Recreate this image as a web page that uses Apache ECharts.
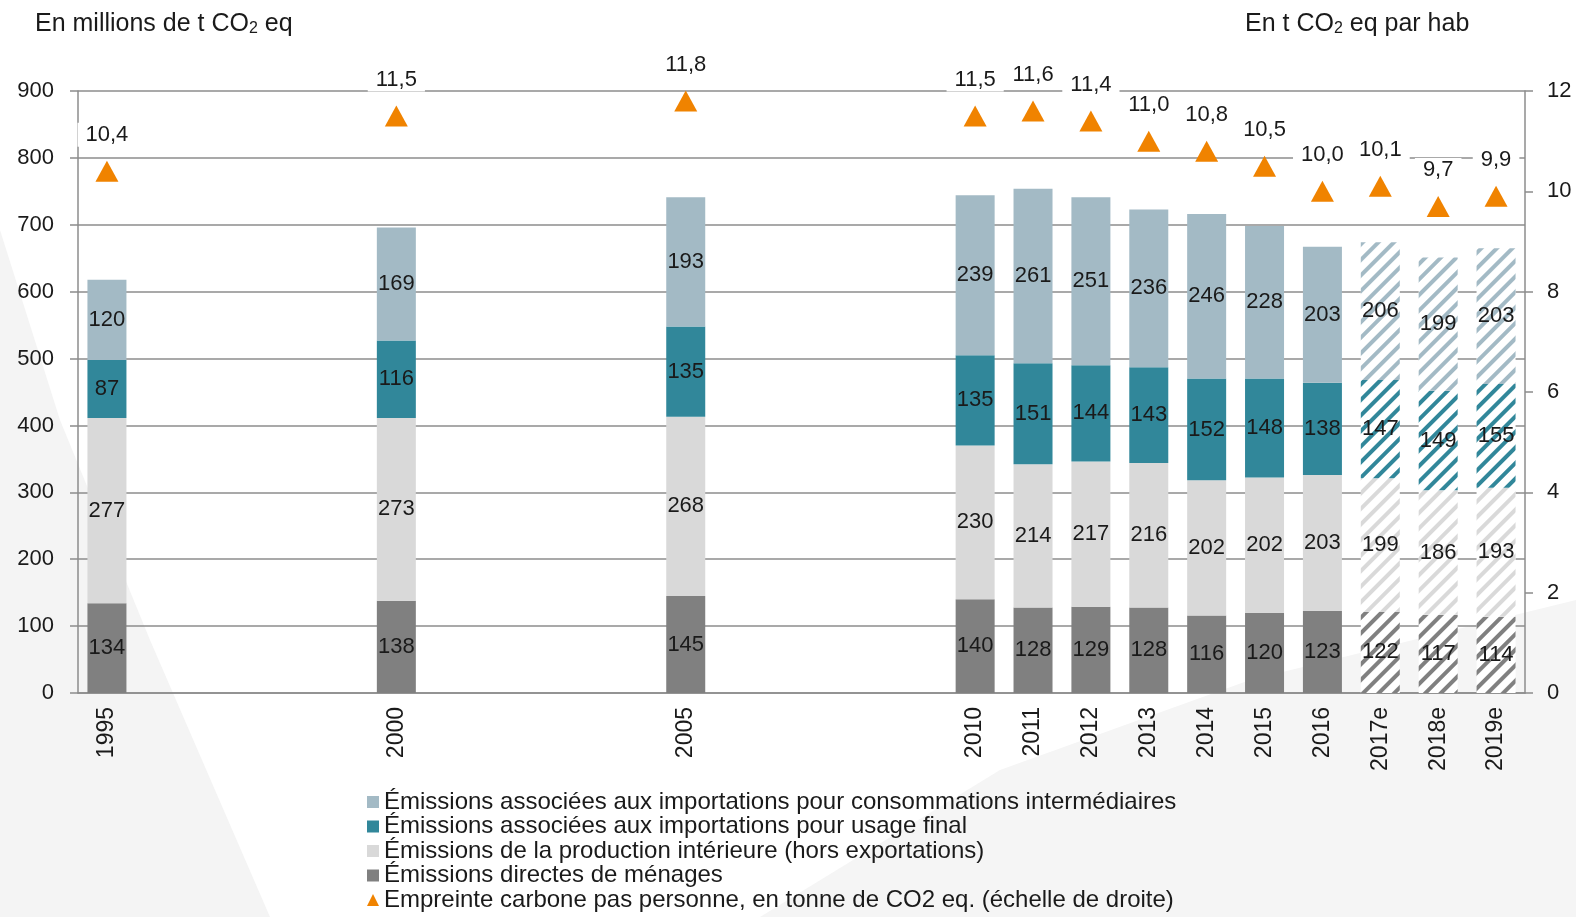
<!DOCTYPE html>
<html>
<head>
<meta charset="utf-8">
<style>
  html, body { margin: 0; padding: 0; background: #fff; }
  #chart { width: 1576px; height: 917px; }
</style>
<script src="https://cdn.jsdelivr.net/npm/echarts@6/dist/echarts.min.js"></script>
</head>
<body>
<div id="chart"></div>
<script>
// values
const years = ['1995', '2000', '2005', '2010', '2011', '2012', '2013', '2014', '2015', '2016', '2017e', '2018e', '2019e']
const estimated = ['2017e', '2018e', '2019e']
const directHouseholds = [134, 138, 145, 140, 128, 129, 128, 116, 120, 123, 122, 117, 114]
const domesticProduction = [277, 273, 268, 230, 214, 217, 216, 202, 202, 203, 199, 186, 193]
const importsFinal = [87, 116, 135, 135, 151, 144, 143, 152, 148, 138, 147, 149, 155]
const importsIntermediate = [120, 169, 193, 239, 261, 251, 236, 246, 228, 203, 206, 199, 203]
const footprintPerCapita = [10.4, 11.5, 11.8, 11.5, 11.6, 11.4, 11.0, 10.8, 10.5, 10.0, 10.1, 9.7, 9.9]

const names = [
  'Émissions associées aux importations pour consommations intermédiaires',
  'Émissions associées aux importations pour usage final',
  'Émissions de la production intérieure (hors exportations)',
  'Émissions directes de ménages',
  'Empreinte carbone pas personne, en tonne de CO2 eq. (échelle de droite)'
]
const colors = ['#a3bac5', '#31879a', '#d9d9d9', '#808080', '#f08300']

// one category per calendar year so the gaps keep their width
const categories = []
for (let y = 1995; y <= 2019; y++) {
  categories.push(y >= 2017 ? y + 'e' : String(y))
}

const font = '"Liberation Sans", Arial, sans-serif'
const textColor = '#1a1a1a'
const gridColor = '#8c8c8c'

function slots(values, color) {
  const out = categories.map(() => '-')
  years.forEach((yr, i) => {
    const idx = categories.indexOf(yr)
    if (estimated.indexOf(yr) >= 0 && color) {
      out[idx] = {
        value: values[i],
        itemStyle: {
          color: '#ffffff',
          decal: {
            symbol: 'rect',
            symbolSize: 1,
            color: color,
            dashArrayX: [1, 0],
            dashArrayY: [4, 7],
            rotation: -Math.PI / 4
          }
        }
      }
    } else {
      out[idx] = values[i]
    }
  })
  return out
}

function barSeries(name, values, color) {
  return {
    name: name,
    type: 'bar',
    stack: 'total',
    barWidth: 39,
    itemStyle: { color: color },
    label: {
      show: true,
      position: 'inside',
      fontFamily: font,
      fontSize: 22,
      color: textColor
    },
    data: slots(values, color)
  }
}

const titleRich = {
  a: { fontFamily: font, fontSize: 25, fontWeight: 'normal', color: textColor },
  s: { fontFamily: font, fontSize: 16, fontWeight: 'normal', color: textColor, verticalAlign: 'bottom' }
}

const chart = echarts.init(document.getElementById('chart'))
chart.setOption({
  backgroundColor: '#ffffff',
  animation: false,
  graphic: [
    {
      type: 'polygon',
      z: -10,
      silent: true,
      shape: { points: [[0, 230], [60, 420], [150, 640], [270, 917], [0, 917]] },
      style: { fill: '#f4f4f4' }
    },
    {
      type: 'polygon',
      z: -10,
      silent: true,
      shape: { points: [[760, 917], [1000, 770], [1250, 680], [1576, 600], [1576, 917]] },
      style: { fill: '#f5f5f5' }
    }
  ],
  title: [
    {
      left: 35,
      top: 12,
      padding: 0,
      text: '{a|En millions de t CO}{s|2}{a| eq}',
      textStyle: { fontWeight: 'normal', rich: titleRich }
    },
    {
      left: 1245,
      top: 12,
      padding: 0,
      text: '{a|En t CO}{s|2}{a| eq par hab}',
      textStyle: { fontWeight: 'normal', rich: titleRich }
    }
  ],
  legend: {
    orient: 'vertical',
    left: 367,
    top: 790,
    padding: 0,
    itemGap: 0.5,
    itemWidth: 12,
    itemHeight: 12,
    textStyle: { fontFamily: font, fontSize: 24, color: textColor },
    data: [
      { name: names[0], icon: 'rect' },
      { name: names[1], icon: 'rect' },
      { name: names[2], icon: 'rect' },
      { name: names[3], icon: 'rect' },
      { name: names[4], icon: 'triangle' }
    ]
  },
  grid: {
    left: 78,
    right: 51,
    top: 91,
    bottom: 224
  },
  xAxis: {
    type: 'category',
    data: categories,
    axisLine: { lineStyle: { color: gridColor, width: 1.5 } },
    axisTick: { interval: 0, length: 6, lineStyle: { color: gridColor, width: 1.5 } },
    axisLabel: {
      interval: 0,
      rotate: 90,
      margin: 14,
      fontFamily: font,
      fontSize: 23,
      color: textColor,
      formatter: v => (years.indexOf(v) >= 0 ? v : '')
    }
  },
  yAxis: [
    {
      type: 'value',
      min: 0,
      max: 900,
      interval: 100,
      axisLine: { show: true, lineStyle: { color: gridColor, width: 1.5 } },
      axisTick: { show: true, length: 8, lineStyle: { color: gridColor, width: 1.5 } },
      axisLabel: { margin: 24, fontFamily: font, fontSize: 22, color: textColor },
      splitLine: { lineStyle: { color: gridColor, width: 1.5 } }
    },
    {
      type: 'value',
      min: 0,
      max: 12,
      interval: 2,
      axisLine: { show: true, lineStyle: { color: gridColor, width: 1.5 } },
      axisTick: { show: true, length: 8, lineStyle: { color: gridColor, width: 1.5 } },
      axisLabel: { margin: 22, fontFamily: font, fontSize: 22, color: textColor },
      splitLine: { show: false }
    }
  ],
  series: [
    barSeries(names[3], directHouseholds, colors[3]),
    barSeries(names[2], domesticProduction, colors[2]),
    barSeries(names[1], importsFinal, colors[1]),
    barSeries(names[0], importsIntermediate, colors[0]),
    {
      name: names[4],
      type: 'scatter',
      yAxisIndex: 1,
      symbol: 'triangle',
      symbolSize: [23, 21],
      itemStyle: { color: colors[4], opacity: 1 },
      label: {
        show: true,
        position: 'top',
        distance: 14,
        fontFamily: font,
        fontSize: 22,
        color: textColor,
        backgroundColor: '#ffffff',
        padding: [1, 8],
        formatter: p => p.value.toFixed(1).replace('.', ',')
      },
      z: 5,
      data: slots(footprintPerCapita, null)
    }
  ]
})
</script>
</body>
</html>
